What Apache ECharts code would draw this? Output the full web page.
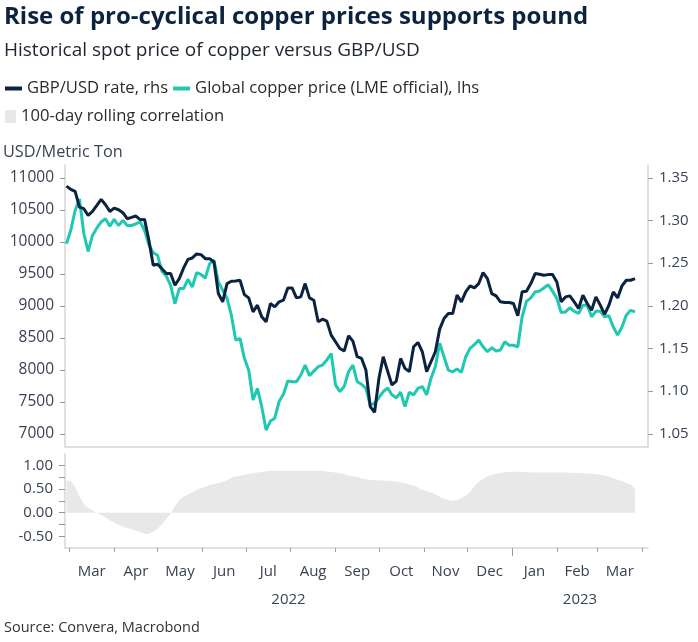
<!DOCTYPE html>
<html><head><meta charset="utf-8">
<script src="https://cdn.jsdelivr.net/npm/echarts@6/dist/echarts.min.js"></script>
<style>html,body{margin:0;padding:0;background:#fff}#c{width:698px;height:642px}</style>
</head><body><div id="c"></div>
<script>
// ---- data (3-day sampling from 2022-02-27) ----
const startDate = [2022, 1, 27];
const stepDays = 3;
const copper = [9970,10180,10490,10670,10130,9850,10100,10215,10310,10360,
10245,10350,10255,10335,10255,10255,10280,10310,10180,9955,
9830,9790,9540,9465,9320,9035,9270,9270,9415,9295,
9520,9490,9435,9660,9710,9375,9245,9115,8855,8465,
8490,8180,7995,7530,7710,7425,7060,7200,7245,7505,
7620,7825,7815,7815,7920,8075,7910,7980,8050,8075,
8155,8255,7765,7660,7740,7970,8075,7815,7775,7710,
7450,7480,7565,7660,7720,7610,7565,7650,7425,7650,
7610,7710,7740,7610,7870,8050,8415,8205,7995,7970,
8015,7960,8205,8335,8395,8465,8360,8285,8345,8295,
8310,8440,8385,8385,8360,8830,9070,9125,9220,9230,
9280,9330,9230,9115,8895,8905,8970,8915,8880,9010,
9010,8830,8915,8915,8830,8845,8670,8545,8670,8855,
8930,8905];
const gbpusd = [1.3402,1.3364,1.3340,1.3157,1.3138,1.3060,1.3106,1.3176,1.3247,1.3184,
1.3106,1.3145,1.3126,1.3091,1.3021,1.3036,1.3052,1.3009,1.3013,1.2767,
1.2475,1.2487,1.2436,1.2378,1.2378,1.2241,1.2319,1.2444,1.2545,1.2561,
1.2608,1.2600,1.2553,1.2553,1.2514,1.2144,1.2047,1.2261,1.2288,1.2292,
1.2300,1.2132,1.2093,1.1930,1.2008,1.1871,1.1813,1.2027,1.1988,1.2047,
1.2066,1.2210,1.2210,1.2093,1.2105,1.2261,1.2093,1.2066,1.1813,1.1844,
1.1821,1.1657,1.1579,1.1501,1.1470,1.1649,1.1587,1.1404,1.1384,1.1248,
1.0819,1.0753,1.1151,1.1404,1.1236,1.1073,1.1119,1.1384,1.1268,1.1229,
1.1521,1.1571,1.1462,1.1229,1.1345,1.1462,1.1727,1.1852,1.1910,1.1910,
1.2125,1.2047,1.2164,1.2234,1.2210,1.2261,1.2390,1.2319,1.2144,1.2117,
1.2047,1.2039,1.2039,1.2027,1.1883,1.2164,1.2171,1.2261,1.2378,1.2370,
1.2358,1.2366,1.2366,1.2280,1.2047,1.2105,1.2117,1.2047,1.1969,1.2125,
1.2027,1.1949,1.2105,1.2008,1.1899,1.2008,1.2164,1.2093,1.2234,1.2300,
1.2300,1.2320];
const correlation = [0.68,0.665,0.55,0.34,0.185,0.105,0.05,0.0,-0.05,-0.10,
-0.16,-0.21,-0.255,-0.295,-0.325,-0.35,-0.38,-0.415,-0.445,-0.45,
-0.40,-0.34,-0.24,-0.135,-0.02,0.14,0.275,0.34,0.39,0.43,
0.48,0.515,0.55,0.585,0.61,0.63,0.655,0.69,0.74,0.77,
0.785,0.805,0.82,0.835,0.85,0.86,0.88,0.89,0.89,0.89,
0.89,0.89,0.89,0.89,0.89,0.89,0.89,0.89,0.885,0.885,
0.875,0.86,0.85,0.835,0.815,0.785,0.77,0.76,0.725,0.71,
0.695,0.685,0.68,0.68,0.675,0.67,0.66,0.645,0.63,0.60,
0.575,0.535,0.48,0.465,0.425,0.39,0.34,0.295,0.27,0.255,
0.27,0.305,0.36,0.445,0.565,0.65,0.72,0.765,0.805,0.825,
0.84,0.855,0.86,0.865,0.87,0.87,0.855,0.85,0.85,0.85,
0.85,0.85,0.85,0.85,0.85,0.85,0.845,0.84,0.84,0.835,
0.83,0.825,0.82,0.805,0.785,0.765,0.73,0.70,0.67,0.63,
0.595,0.51];

const leftTicks = [7000,7500,8000,8500,9000,9500,10000,10500,11000];
const rightTicks = [1.05,1.10,1.15,1.20,1.25,1.30,1.35];
const corrLabels = [-0.5,0,0.5,1];
const corrTicks = [-0.5,-0.25,0,0.25,0.5,0.75,1];
const monthLabels = ['Mar','Apr','May','Jun','Jul','Aug','Sep','Oct','Nov','Dec','Jan','Feb','Mar'];
const yearLabels = ['2022','2023'];
const monthStarts = [[2022,2],[2022,3],[2022,4],[2022,5],[2022,6],[2022,7],[2022,8],[2022,9],[2022,10],[2022,11],[2023,0],[2023,1],[2023,2],[2023,3]];
const xMin = Date.UTC(2022,1,26), xMax = Date.UTC(2023,3,5);
const yearBoundary = Date.UTC(2023,0,1);

// ---- build ----
const DAY = 86400000;
const t0 = Date.UTC(startDate[0], startDate[1], startDate[2]);
const dates = copper.map((_, i) => t0 + i * stepDays * DAY);
const monthTicks = monthStarts.map(m => Date.UTC(m[0], m[1], 1));
const monthMid = monthLabels.map((_, i) => (monthTicks[i] + monthTicks[i+1]) / 2);
const yearMid = [(xMin + yearBoundary) / 2, (yearBoundary + xMax) / 2];

const FONT = '"Open Sans", "Noto Sans", sans-serif';
const axisGray = '#d6d6d6';
const tickGray = '#9a9a9a';
const labelColor = '#3a4352';
const NAVY = '#0b2240', TEAL = '#1fc8b0', GREY = '#e8e8e8';

const chart = echarts.init(document.getElementById('c'), null, {renderer: 'canvas'});
const baseX = {type: 'value', min: xMin, max: xMax, splitLine: {show: false}};
const nearest = (arr, v) => { let b = -1, d = Infinity; arr.forEach((a, i) => { const e = Math.abs(a - v); if (e < d) { d = e; b = i; } }); return d < DAY ? b : -1; };

chart.setOption({
  animation: false,
  textStyle: {fontFamily: FONT},
  title: [
    {text: 'Rise of pro-cyclical copper prices supports pound', left: 4, top: 5, padding: 0,
     textStyle: {fontSize: 24, fontWeight: 'bold', color: '#0c2340', fontFamily: FONT}},
    {text: 'Historical spot price of copper versus GBP/USD', left: 4, top: 41, padding: 0,
     textStyle: {fontSize: 19, fontWeight: 'normal', color: '#1e2530', fontFamily: FONT}},
    {text: 'USD/Metric Ton', left: 3, top: 144, padding: 0,
     textStyle: {fontSize: 16.3, fontWeight: 'normal', color: labelColor, fontFamily: FONT}},
    {text: 'Source: Convera, Macrobond', left: 4, top: 620, padding: 0,
     textStyle: {fontSize: 14.5, fontWeight: 'normal', color: '#333', fontFamily: FONT}}
  ],
  legend: [
    {data: ['GBP/USD rate, rhs', 'Global copper price (LME official), lhs'], left: 5, top: 80, padding: 0,
     icon: 'rect', itemWidth: 17, itemHeight: 4, itemGap: 5,
     textStyle: {fontSize: 16.6, color: '#2b2b2b', fontFamily: FONT}},
    {data: ['100-day rolling correlation'], left: 5, top: 108, padding: 0,
     icon: 'rect', itemWidth: 11, itemHeight: 13,
     textStyle: {fontSize: 16.6, color: '#2b2b2b', fontFamily: FONT}}
  ],
  grid: [
    {left: 65, right: 50, top: 165, height: 281.7},
    {left: 65, right: 50, top: 453.7, height: 94.4}
  ],
  xAxis: [
    Object.assign({}, baseX, {gridIndex: 0, position: 'bottom',
      axisLine: {show: true, onZero: false, lineStyle: {color: axisGray, width: 1.5}},
      axisTick: {show: false}, axisLabel: {show: false}}),
    Object.assign({}, baseX, {gridIndex: 1, position: 'bottom',
      axisLine: {show: true, onZero: false, lineStyle: {color: axisGray, width: 1.5}},
      axisTick: {show: true, length: 4, lineStyle: {color: tickGray}, customValues: monthTicks},
      axisLabel: {show: true, customValues: monthMid, margin: 16, fontSize: 15, color: labelColor, fontFamily: FONT,
        formatter: v => { const i = nearest(monthMid, v); return i >= 0 ? monthLabels[i] : ''; }}}),
    Object.assign({}, baseX, {gridIndex: 1, position: 'bottom',
      axisLine: {show: false, onZero: false},
      axisTick: {show: false},
      axisLabel: {show: true, customValues: yearMid, margin: 44, fontSize: 15, color: labelColor, fontFamily: FONT,
        formatter: v => { const i = nearest(yearMid, v); return i >= 0 ? yearLabels[i] : ''; }}}),
    Object.assign({}, baseX, {gridIndex: 1, position: 'bottom',
      axisLine: {show: false, onZero: false},
      axisTick: {show: true, length: 8, lineStyle: {color: tickGray}, customValues: [yearBoundary]},
      axisLabel: {show: false}})
  ],
  yAxis: [
    {type: 'value', gridIndex: 0, position: 'left', min: 6800, max: 11200,
     splitLine: {show: false},
     axisLine: {show: true, lineStyle: {color: axisGray, width: 1.5}},
     axisTick: {show: true, length: 5, lineStyle: {color: tickGray}, customValues: leftTicks},
     axisLabel: {customValues: leftTicks, margin: 11, fontSize: 15.5, color: labelColor, fontFamily: FONT,
       formatter: v => String(Math.round(v))}},
    {type: 'value', gridIndex: 0, position: 'right', min: 1.035, max: 1.365,
     splitLine: {show: false},
     axisLine: {show: true, lineStyle: {color: axisGray, width: 1.5}},
     axisTick: {show: true, length: 5, lineStyle: {color: tickGray}, customValues: rightTicks},
     axisLabel: {customValues: rightTicks, margin: 11, fontSize: 15, color: labelColor, fontFamily: FONT,
       formatter: v => v.toFixed(2)}},
    {type: 'value', gridIndex: 1, position: 'left', min: -0.75, max: 1.25,
     splitLine: {show: false},
     axisLine: {show: true, lineStyle: {color: axisGray, width: 1.5}},
     axisTick: {show: true, length: 6, lineStyle: {color: tickGray}, customValues: corrTicks},
     axisLabel: {customValues: corrLabels, margin: 12, fontSize: 15, color: labelColor, fontFamily: FONT,
       formatter: v => v.toFixed(2)}}
  ],
  series: [
    {name: '100-day rolling correlation', type: 'line', xAxisIndex: 1, yAxisIndex: 2,
     data: dates.map((d, i) => [d, correlation[i]]), showSymbol: false, symbol: 'none',
     lineStyle: {width: 0, color: GREY}, itemStyle: {color: GREY},
     areaStyle: {color: GREY, opacity: 1, origin: 0}, z: 1},
    {name: 'Global copper price (LME official), lhs', type: 'line', xAxisIndex: 0, yAxisIndex: 0,
     data: dates.map((d, i) => [d, copper[i]]), showSymbol: false, symbol: 'none',
     lineStyle: {width: 3, color: TEAL}, itemStyle: {color: TEAL}, z: 2},
    {name: 'GBP/USD rate, rhs', type: 'line', xAxisIndex: 0, yAxisIndex: 1,
     data: dates.map((d, i) => [d, gbpusd[i]]), showSymbol: false, symbol: 'none',
     lineStyle: {width: 3, color: NAVY}, itemStyle: {color: NAVY}, z: 3}
  ]
});
</script>
</body></html>
